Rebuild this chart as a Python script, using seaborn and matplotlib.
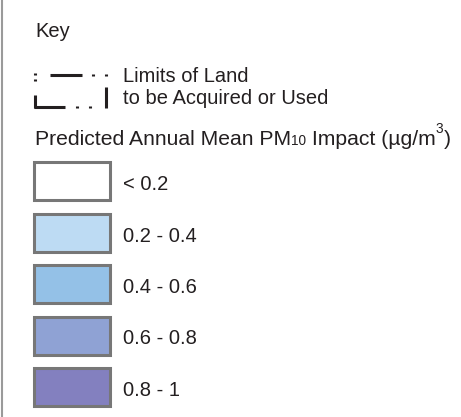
import numpy as np
import pandas as pd
import seaborn as sns
import matplotlib.pyplot as plt
from matplotlib.patches import Rectangle

# legend classes
classes = ['< 0.2', '0.2 - 0.4', '0.4 - 0.6', '0.6 - 0.8', '0.8 - 1']
colours = ['#ffffff', '#bddbf3', '#94c1e7', '#8fa2d4', '#8380bf']
key_title = 'Key'
limits_text = ['Limits of Land', 'to be Acquired or Used']

df = pd.DataFrame({'label': classes, 'colour': colours})

sns.set_style('white')
plt.rcParams['font.family'] = ['Liberation Sans', 'DejaVu Sans']

W, H = 461, 417
fig = plt.figure(figsize=(W / 100, H / 100), dpi=100)
ax = fig.add_axes([0, 0, 1, 1])
ax.set_xlim(0, W)
ax.set_ylim(H, 0)
ax.axis('off')

txt_col = '#231f20'
fs = 14.5

# left border
ax.plot([1.5, 1.5], [0, H], color='#9a9a9a', lw=1.5)

ax.text(35, 37, key_title, fontsize=fs, color=txt_col, va='baseline')

# limits of land symbol
lk = dict(color='#231f20', lw=2.2, solid_capstyle='butt')
ax.plot([35, 35], [72.5, 74.5], **lk)
ax.plot([35, 35], [79, 81], **lk)
ax.plot([50, 82], [74.5, 74.5], **lk)
ax.plot([93, 93], [74, 76], **lk)
ax.plot([106, 106], [74, 76], **lk)
ax.plot([35, 35], [95, 107.5], **lk)
ax.plot([34, 65], [106.5, 106.5], **lk)
ax.plot([77, 77], [105.5, 107.5], **lk)
ax.plot([90, 90], [105.5, 107.5], **lk)
ax.plot([106, 106], [87, 107.5], **lk)
ax.text(123, 82, limits_text[0], fontsize=fs, color=txt_col, va='baseline')
ax.text(123, 103.5, limits_text[1], fontsize=fs, color=txt_col, va='baseline')

# heading with small "10" and superscript "3"
fig.canvas.draw()
r = fig.canvas.get_renderer()
inv = ax.transData.inverted()
base_y = 145
hfs = 15.2
parts = [('Predicted Annual Mean PM', hfs, 0), ('10', 9.8, 0), (' Impact (µg/m', hfs, 0),
         ('3', 9.8, -12), (')', hfs, 0)]
x = 35
for s, size, dy in parts:
    t = ax.text(x, base_y + dy, s, fontsize=size, color=txt_col, va='baseline')
    bb = t.get_window_extent(renderer=r)
    x = inv.transform((bb.x1, bb.y0))[0]

# class boxes
top0, pitch, bw, bh = 162, 51.5, 76, 38
for i, row in df.iterrows():
    y0 = top0 + i * pitch
    ax.add_patch(Rectangle((33.5, y0), bw, bh, facecolor=row['colour'],
                           edgecolor='#777777', lw=2.2))
    ax.text(123, y0 + 28, row['label'], fontsize=fs, color=txt_col, va='baseline')

fig.savefig('out.png', dpi=100)
